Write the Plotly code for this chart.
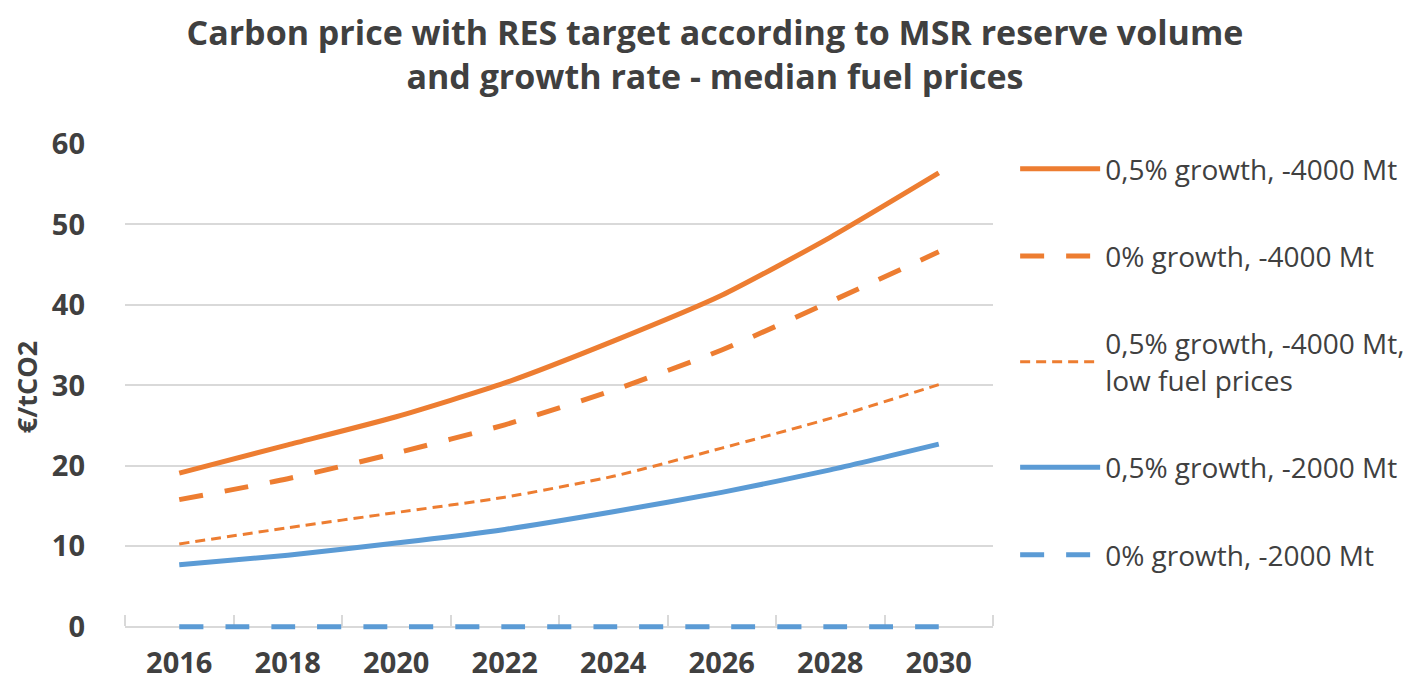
import plotly.graph_objects as go

years = [2016, 2018, 2020, 2022, 2024, 2026, 2028, 2030]
s1 = [19.1, 22.6, 26.1, 30.3, 35.5, 41.2, 48.4, 56.4]   # 0,5% growth, -4000 Mt
s2 = [15.8, 18.4, 21.6, 25.1, 29.4, 34.4, 40.4, 46.6]   # 0% growth, -4000 Mt
s3 = [10.3, 12.3, 14.2, 16.1, 18.7, 22.2, 25.9, 30.1]   # low fuel prices
s4 = [7.7, 8.9, 10.4, 12.1, 14.3, 16.7, 19.5, 22.7]     # 0,5% growth, -2000 Mt
s5 = [0, 0, 0, 0, 0, 0, 0, 0]                           # 0% growth, -2000 Mt

names = ["0,5% growth, -4000 Mt", "0% growth, -4000 Mt",
         "0,5% growth, -4000 Mt,<br>low fuel prices",
         "0,5% growth, -2000 Mt", "0% growth, -2000 Mt"]
yticks = [0, 10, 20, 30, 40, 50, 60]

ORANGE = "#ED7D31"
BLUE = "#5B9BD5"
TXT = "#404040"
GRID = "#D9D9D9"
FONT = "Open Sans"

styles = [
    dict(color=ORANGE, width=5, dash="solid"),
    dict(color=ORANGE, width=5, dash="24px,22px"),
    dict(color=ORANGE, width=3, dash="10px,6px"),
    dict(color=BLUE, width=5, dash="solid"),
    dict(color=BLUE, width=5, dash="24px,22px"),
]

fig = go.Figure()
for i, (ys, nm) in enumerate(zip([s1, s2, s3, s4, s5], names)):
    fig.add_trace(go.Scatter(
        x=years, y=ys, name=nm, mode="lines",
        line=dict(shape="spline", smoothing=0.6, **styles[i]),
        legendgroup=f"g{i}",
    ))

# page body has an 8px default margin -> figure is 8px smaller, margins shifted
W, H = 1410, 676
YMIN = -0.4
fig.update_layout(
    width=W, height=H,
    margin=dict(l=117, r=425, t=136, b=54, autoexpand=False),
    paper_bgcolor="white", plot_bgcolor="white",
    font=dict(family=FONT, color=TXT),
    title=dict(
        text="<b>Carbon price with RES target according to MSR reserve volume<br>and growth rate - median fuel prices</b>",
        x=0.5014, xanchor="center", y=0.946, yanchor="top",
        font=dict(size=34, color=TXT, family=FONT),
    ),
    showlegend=True,
    legend=dict(
        x=1.0255, xanchor="left", y=1.0, yanchor="top",
        font=dict(size=28, color=TXT, family=FONT),
        tracegroupgap=48, itemwidth=80,
        bgcolor="rgba(0,0,0,0)",
    ),
    xaxis=dict(
        range=[2015, 2031], tickmode="array", tickvals=years,
        ticktext=[f"<b>{y}</b>" for y in years],
        ticks="", showgrid=False, showline=True, linecolor=GRID, linewidth=1.5,
        tickfont=dict(size=29, color=TXT, family=FONT),
        ticklabelstandoff=11,
        minor=dict(tick0=2015, dtick=2, ticks="inside", ticklen=11,
                   tickcolor=GRID, tickwidth=1.5, showgrid=False),
        zeroline=False, automargin=False, layer="below traces",
        anchor="free", position=(0 - YMIN) / (60 - YMIN),
    ),
    yaxis=dict(
        range=[YMIN, 60], tickmode="array", tickvals=yticks,
        ticktext=[f"<b>{v}</b>" for v in yticks],
        showgrid=True, gridcolor=GRID, gridwidth=1.5,
        showline=False, zeroline=False, ticks="",
        tickfont=dict(size=29, color=TXT, family=FONT),
        ticklabelstandoff=39, automargin=False, layer="below traces",
        title=dict(text="<b>€/tCO2</b>", font=dict(size=27, color=TXT, family=FONT), standoff=24),
    ),
)

fig.write_html("out.html")
